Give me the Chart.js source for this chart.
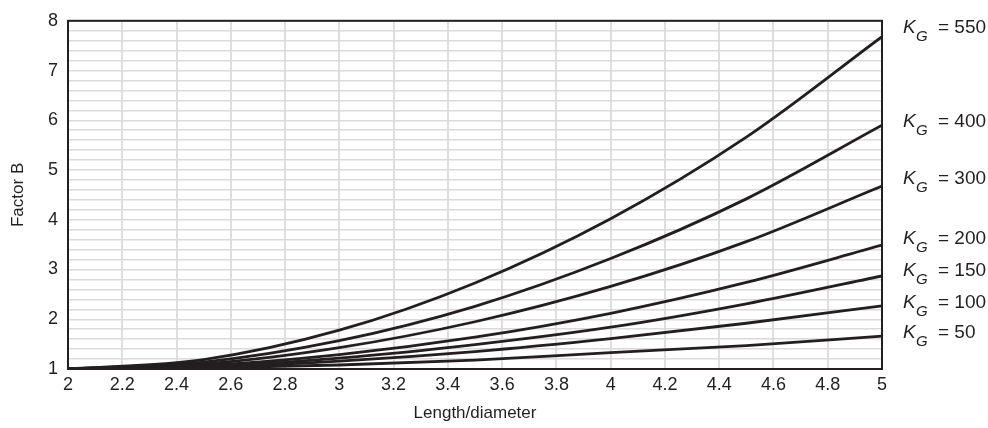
<!DOCTYPE html>
<html>
<head>
<meta charset="utf-8">
<title>Factor B</title>
<script src="https://cdn.jsdelivr.net/npm/chart.js@4.4.1/dist/chart.umd.min.js"></script>
<style>
  body { margin: 0; background: #fff; }
  canvas { display: block; }
</style>
</head>
<body>
<canvas id="grafico" width="988" height="428"></canvas>
<script>
// valores
const lengthDiameter = [2, 2.5, 3, 3.5, 4, 4.5, 5];
const kg550 = [1, 1.19, 1.78, 2.73, 4.02, 5.66, 7.68];
const kg400 = [1, 1.14, 1.57, 2.26, 3.22, 4.42, 5.90];
const kg300 = [1, 1.10, 1.43, 1.95, 2.66, 3.56, 4.68];
const kg200 = [1, 1.07, 1.29, 1.64, 2.12, 2.74, 3.49];
const kg150 = [1, 1.05, 1.22, 1.49, 1.84, 2.31, 2.87];
const kg100 = [1, 1.04, 1.16, 1.35, 1.61, 1.92, 2.27];
const kg50 = [1, 1.02, 1.08, 1.18, 1.33, 1.47, 1.66];
const kgLabels = ["550", "400", "300", "200", "150", "100", "50"];

const corTexto = "#231f20";
const fonte = "'Liberation Sans', Arial, sans-serif";

function montarSerie(valores) {
  return valores.map((v, i) => ({ x: lengthDiameter[i], y: v }));
}

const series = [kg550, kg400, kg300, kg200, kg150, kg100, kg50];

// onde fica cada rótulo K_G (em unidades do eixo y)
const posRotulos = [7.90, 6.00, 4.86, 3.65, 3.02, 2.37, 1.76];

const pluginMoldura = {
  id: "moldura",
  afterDatasetsDraw(chart) {
    const { ctx, chartArea: a, scales } = chart;
    ctx.save();
    ctx.strokeStyle = corTexto;
    ctx.lineWidth = 2;
    ctx.strokeRect(a.left, a.top, a.right - a.left, a.bottom - a.top);

    // rótulos K_G = ...
    ctx.fillStyle = corTexto;
    ctx.textBaseline = "alphabetic";
    ctx.textAlign = "left";
    kgLabels.forEach((txt, i) => {
      const y = scales.y.getPixelForValue(posRotulos[i]) + 7;
      const x = a.right + 21;
      ctx.font = "italic 19px " + fonte;
      ctx.fillText("K", x, y);
      ctx.font = "italic 15px " + fonte;
      ctx.fillText("G", x + 13, y + 8);
      ctx.font = "19px " + fonte;
      ctx.fillText("= " + txt, x + 35, y);
    });
    ctx.restore();
  }
};

new Chart(document.getElementById("grafico"), {
  type: "line",
  data: {
    datasets: series.map((s, i) => ({
      label: "KG = " + kgLabels[i],
      data: montarSerie(s),
      borderColor: corTexto,
      borderWidth: 2.8,
      pointRadius: 0,
      fill: false,
      cubicInterpolationMode: "monotone"
    }))
  },
  options: {
    responsive: false,
    animation: false,
    layout: { padding: { top: 15, right: 106, left: 0, bottom: 0 } },
    plugins: {
      legend: { display: false },
      tooltip: { enabled: false }
    },
    scales: {
      x: {
        type: "linear",
        min: 2,
        max: 5,
        border: { display: false },
        grid: { color: "#dedede", lineWidth: 2, drawTicks: false },
        ticks: {
          stepSize: 0.2,
          autoSkip: false,
          maxRotation: 0,
          padding: 5,
          color: corTexto,
          font: { family: fonte, size: 18 },
          callback: v => String(Math.round(v * 10) / 10)
        },
        title: {
          display: true,
          text: "Length/diameter",
          color: corTexto,
          font: { family: fonte, size: 17 },
          padding: { top: 0, bottom: 4 }
        },
        afterFit(scale) { scale.height = 59; }
      },
      y: {
        type: "linear",
        min: 1,
        max: 8,
        border: { display: false },
        grid: { color: "#dadada", lineWidth: 1.5, drawTicks: false },
        ticks: {
          stepSize: 0.2,
          autoSkip: false,
          padding: 10,
          color: corTexto,
          font: { family: fonte, size: 18 },
          callback: v => Math.abs(v - Math.round(v)) < 1e-6 ? String(Math.round(v)) : ""
        },
        title: {
          display: true,
          text: "Factor B",
          color: corTexto,
          font: { family: fonte, size: 17 },
          padding: { top: 8, bottom: 0 }
        },
        afterFit(scale) { scale.width = 68; }
      }
    }
  },
  plugins: [pluginMoldura]
});
</script>
</body>
</html>
